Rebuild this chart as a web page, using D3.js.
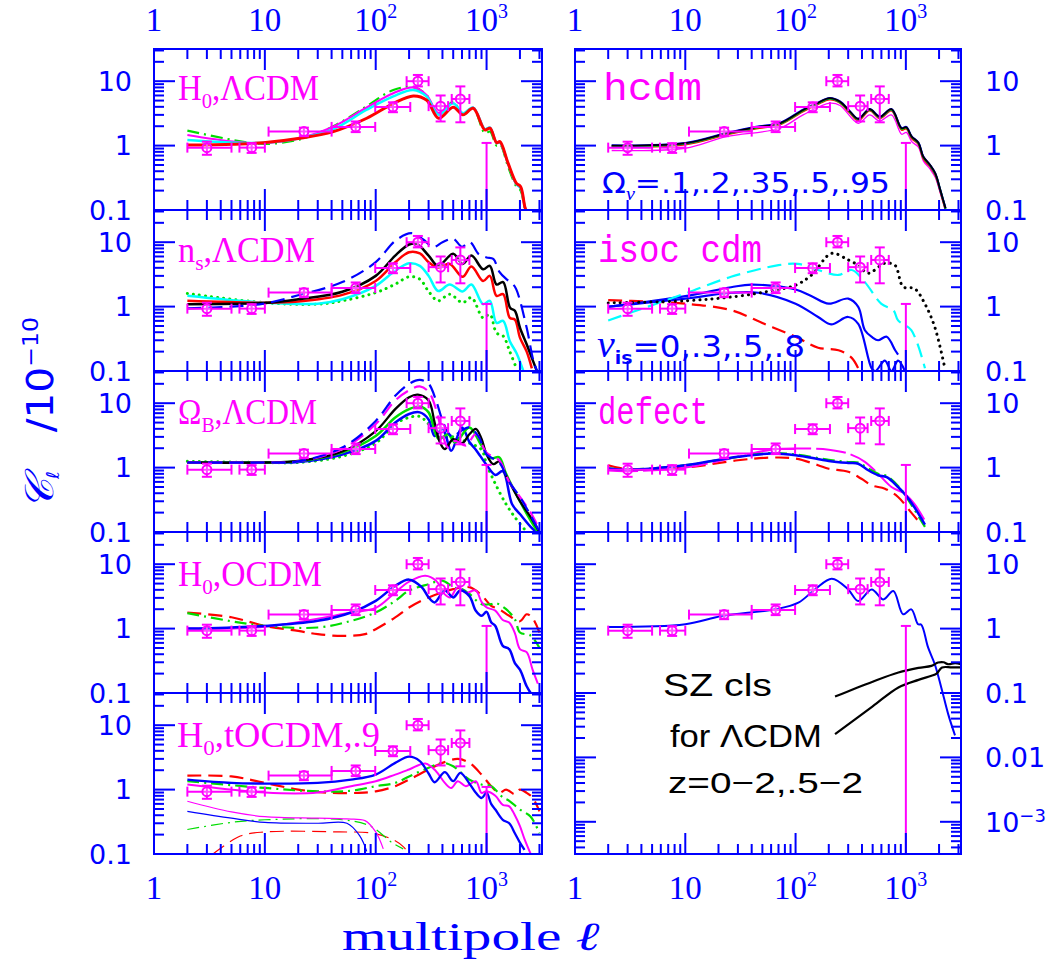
<!DOCTYPE html>
<html><head><meta charset="utf-8">
<script src="https://cdn.jsdelivr.net/npm/d3@7"></script>
<style>body{margin:0;background:#fff}text{white-space:pre}</style>
</head><body><svg id="c" width="1058" height="964"></svg>
<script>
// ---------------- DATA ----------------
// x tick labels (multipole) and y tick labels
const xTickLabels = [[1,"1",""],[10,"10",""],[100,"10","2"],[1000,"10","3"]];
const yTickLabels = [[10,"10",""],[1,"1",""],[0.1,"0.1",""]];
const yTickLabelsSZ = [[10,"10",""],[1,"1",""],[0.1,"0.1",""],[0.01,"0.01",""],[0.001,"10","−3"]];

// COBE/ground-based band powers (same in every panel)
const dataEll   = [3, 7.6, 22.5, 66, 143, 240, 385, 580];
const dataVal   = [0.93, 0.93, 1.65, 1.95, 3.97, 10.0, 4.1, 5.3];
const dataEllLo = [2, 5.9, 10.8, 40, 99, 190, 300, 485];
const dataEllHi = [5, 10, 40, 99, 205, 300, 450, 700];
const dataValLo = [0.72, 0.77, 1.4, 1.62, 3.3, 8.3, 2.37, 2.3];
const dataValHi = [1.15, 1.09, 1.9, 2.37, 4.7, 12.5, 6.0, 8.3];
const limitEll = [1000];
const limitVal = [1.1];

// Panel: H0, LCDM
const h0l_green = [[2,1.71],[5.2,1.22],[9.7,1.06],[20.7,1.25],[41.5,2.0],[83,4.1],[144,7.3],[218,8.1],[287,6.1],[370,3.0],[500,4.8],[612,3.0],[757,3.8],[966,1.55],[1073,1.65],[1232,1.0],[1320,1.05],[1565,0.47],[1860,0.23],[2030,0.2],[2220,0.1],[2390,0.07]];
const h0l_mag   = [[2,1.46],[5.2,1.15],[9.7,1.09],[20.7,1.3],[41.5,1.97],[83,3.9],[144,6.5],[218,8.0],[287,6.1],[370,3.2],[500,4.55],[612,3.1],[757,3.9],[966,1.8],[1073,1.9],[1232,1.1],[1320,1.12],[1565,0.52],[1860,0.25],[2030,0.22],[2220,0.11],[2390,0.08]];
const h0l_cyan  = [[2,1.22],[5.2,1.11],[9.7,1.11],[20.7,1.3],[41.5,1.8],[83,3.6],[144,5.8],[218,7.3],[287,5.8],[370,3.0],[500,4.55],[612,3.2],[757,3.9],[966,1.8],[1073,1.9],[1232,1.1],[1320,1.12],[1565,0.52],[1860,0.25],[2030,0.22],[2220,0.11],[2390,0.08]];
const h0l_red   = [[2,1.02],[5.2,1.05],[9.7,1.11],[20.7,1.3],[41.5,1.65],[83,2.66],[144,4.5],[218,5.9],[287,5.1],[370,2.66],[500,3.95],[612,3.0],[757,3.8],[966,1.75],[1073,1.86],[1232,1.11],[1320,1.15],[1565,0.53],[1860,0.26],[2030,0.23],[2220,0.11],[2390,0.08]];

// Panel: hcdm
const hc_mag   = [[2.15,0.84],[10,0.91],[23.6,1.38],[72,1.86],[117,3.0],[204,4.55],[253,4.2],[370,2.22],[470,3.0],[580,2.4],[740,3.0],[915,1.5],[1010,1.6],[1130,1.15],[1300,0.95],[1440,0.58],[1660,0.43],[1850,0.32],[2060,0.18],[2290,0.1]];
const hc_red   = [[2.15,0.96],[10,1.04],[23.6,1.48],[44,1.84],[72,2.12],[117,3.4],[155,4.3],[204,5.2],[253,4.6],[312,3.2],[370,2.45],[470,3.5],[580,2.65],[740,3.5],[915,1.76],[1010,1.84],[1130,1.3],[1300,1.05],[1440,0.63],[1660,0.47],[1850,0.35],[2060,0.19],[2290,0.1]];
const hc_green = [[2.15,0.98],[10,1.07],[23.6,1.52],[44,1.9],[72,2.18],[117,3.5],[155,4.4],[204,5.35],[253,4.7],[312,3.3],[370,2.55],[470,3.6],[580,2.75],[740,3.6],[915,1.82],[1010,1.9],[1130,1.35],[1300,1.09],[1440,0.66],[1660,0.49],[1850,0.36],[2060,0.2],[2290,0.104]];
const hc_blue  = [[2.15,1.01],[10,1.1],[23.6,1.57],[44,1.96],[72,2.25],[117,3.62],[155,4.55],[204,5.5],[253,4.85],[312,3.4],[370,2.62],[470,3.7],[580,2.82],[740,3.7],[915,1.88],[1010,1.95],[1130,1.39],[1300,1.12],[1440,0.68],[1660,0.5],[1850,0.37],[2060,0.2],[2290,0.107]];
const hc_black = [[2.15,1.0],[10,1.09],[23.6,1.55],[44,1.93],[72,2.22],[117,3.58],[155,4.5],[204,5.45],[253,4.8],[312,3.37],[370,2.6],[470,3.67],[580,2.8],[740,3.67],[915,1.86],[1010,1.93],[1130,1.38],[1300,1.11],[1440,0.67],[1660,0.5],[1850,0.37],[2060,0.2],[2290,0.106]];

// Panel: n_s, LCDM
const ns_greenDot = [[2,1.6],[10,1.15],[30,1.09],[50,1.23],[100,1.65],[150,2.23],[200,2.9],[250,2.67],[300,1.72],[366,1.23],[465,1.56],[607,1.15],[730,1.38],[930,0.67],[1070,0.76],[1230,0.39],[1410,0.35],[1620,0.2],[1860,0.11]];
const ns_cyan = [[2,1.47],[10,1.15],[30,1.11],[50,1.3],[100,2.1],[150,3.6],[200,4.7],[250,4.3],[300,3.0],[366,1.75],[465,2.2],[607,1.72],[730,2.2],[930,1.09],[1070,1.23],[1230,0.56],[1410,0.6],[1620,0.29],[1860,0.19],[2145,0.1]];
const ns_red = [[2,1.23],[10,1.15],[20,1.2],[50,1.52],[100,2.5],[150,4.87],[200,7.0],[250,6.7],[300,4.9],[366,4.0],[465,4.6],[607,2.9],[730,4.2],[930,2.5],[1070,3.0],[1230,1.47],[1410,1.56],[1620,0.67],[1800,0.63],[2000,0.33],[2300,0.2],[2560,0.11]];
const ns_black = [[2,1.09],[10,1.14],[20,1.3],[50,1.7],[100,3.0],[150,6.2],[200,9.2],[235,9.4],[300,6.2],[366,4.3],[500,6.6],[607,4.6],[730,6.2],[930,3.8],[1070,4.3],[1230,2.2],[1410,2.4],[1630,0.96],[1800,0.86],[2000,0.47],[2300,0.26],[2560,0.16],[2840,0.1]];
const ns_blueDash = [[2,0.94],[5,1.0],[10,1.12],[20,1.5],[50,2.4],[100,4.9],[150,10.5],[210,13.8],[268,11],[330,8.4],[400,10],[500,11.3],[600,8.5],[708,10],[850,6.5],[1000,5.8],[1150,5.5],[1300,3.5],[1510,2.67],[1700,2.3],[1850,1.87],[2300,0.47],[2660,0.14],[3000,0.08]];

// Panel: isocurvature cdm
const iso_dot   = [[2,1.14],[10,1.23],[30,1.45],[60,1.76],[100,2.15],[140,3.1],[212,6.7],[300,5.3],[369,4.4],[456,3.3],[643,4.7],[795,4.4],[946,2.03],[1200,1.9],[1490,1.1],[1830,0.48],[2260,0.11]];
const iso_cyan  = [[2,0.61],[4.6,1.0],[10,1.6],[26,2.9],[70,4.4],[105,4.6],[160,3.7],[245,3.1],[323,3.7],[425,2.4],[600,1.1],[770,0.88],[850,0.61],[1120,0.43],[1490,0.11]];
const iso_blue1 = [[2,0.99],[10,1.45],[26,2.0],[40,2.2],[100,1.84],[140,1.45],[200,1.11],[300,1.33],[370,0.99],[425,0.43],[500,0.33],[560,0.3],[670,0.34],[800,0.21],[850,0.18]];
const iso_blue2 = [[2,1.0],[10,1.33],[26,1.64],[46,1.64],[100,1.11],[160,0.69],[210,0.53],[300,0.69],[370,0.54],[490,0.11],[530,0.1],[645,0.145],[740,0.1],[850,0.145],[980,0.1]];
const iso_red   = [[2,1.26],[4.6,1.2],[10,1.11],[26,0.88],[52,0.54],[100,0.34],[160,0.23],[245,0.21],[323,0.16],[380,0.1]];

// Panel: Omega_B, LCDM
const ob_greenDot = [[2,1.25],[10,1.2],[20,1.2],[50,1.5],[100,2.4],[150,4.75],[200,6.0],[250,6.2],[300,4.75],[380,3.0],[500,3.0],[700,2.4],[900,1.9],[1000,1.13],[1200,0.56],[1500,0.27],[1800,0.17],[2200,0.11]];
const ob_blue  = [[2,1.2],[10,1.2],[20,1.22],[50,1.6],[100,2.6],[150,5.0],[200,6.8],[250,7.2],[300,5.6],[340,3.1],[400,4.0],[430,3.1],[480,1.82],[600,4.2],[700,2.5],[800,1.9],[1000,1.1],[1200,0.77],[1400,0.88],[1700,0.27],[2000,0.19],[2500,0.12],[2800,0.1]];
const ob_green = [[2,1.2],[10,1.2],[20,1.25],[50,1.72],[100,3.1],[150,6.0],[200,8.1],[250,8.9],[300,7.2],[370,2.77],[450,3.3],[520,2.45],[700,4.2],[900,2.2],[1100,1.4],[1300,1.45],[1500,0.8],[2000,0.3],[2500,0.15],[2900,0.1]];
const ob_black = [[2,1.2],[10,1.2],[20,1.27],[50,1.78],[100,3.7],[150,8.1],[200,12.4],[240,13.6],[300,11],[340,5.0],[380,2.45],[420,1.93],[500,2.77],[600,2.4],[700,3.3],[800,4.0],[900,2.8],[1000,1.6],[1150,1.13],[1300,1.25],[1500,0.75],[2000,0.3],[2500,0.17],[3000,0.1]];
const ob_magDash = [[2,1.2],[10,1.2],[20,1.25],[50,1.95],[100,4.75],[150,11],[200,15.8],[250,18.2],[300,15],[350,8.1],[400,3.3],[450,2.05],[520,2.6],[650,2.2],[800,3.3],[1000,1.7],[1300,1.3],[1600,0.6],[2000,0.35],[2500,0.2],[3000,0.11]];
const ob_blueDash = [[2,1.2],[10,1.2],[20,1.25],[50,2.05],[100,5.3],[150,13],[200,20],[250,23],[300,20],[350,11],[400,5.4],[450,3.5],[500,3.0],[560,3.5],[700,4.2],[850,3],[1000,1.6],[1300,1.2],[1600,0.6],[2000,0.35],[2500,0.18],[3000,0.1]];

// Panel: defect
const def_red   = [[2,1.09],[3,0.95],[10,1.0],[30,1.3],[60,1.43],[100,1.38],[160,1.09],[200,0.96],[300,0.86],[396,0.67],[490,0.53],[646,0.47],[850,0.35],[1120,0.2],[1290,0.15]];
const def_mag   = [[2,0.9],[3,0.88],[10,1.0],[30,1.47],[60,1.9],[100,1.98],[200,1.9],[300,1.65],[425,1.23],[560,0.8],[740,0.5],[980,0.39],[1200,0.27],[1490,0.15]];
const def_green = [[2,0.97],[3,0.93],[10,1.09],[30,1.47],[60,1.68],[100,1.6],[200,1.32],[300,1.22],[370,1.2],[456,0.97],[560,0.8],[670,0.74],[850,0.52],[1000,0.36],[1200,0.22],[1490,0.12]];
const def_blue  = [[2,0.97],[3,0.93],[10,1.09],[30,1.47],[60,1.65],[100,1.56],[200,1.27],[300,1.18],[370,1.15],[456,0.91],[560,0.76],[670,0.71],[850,0.5],[1000,0.37],[1200,0.24],[1490,0.13]];

// Panel: H0, OCDM
const oc_red   = [[2,1.78],[5,1.5],[10,1.1],[20,0.92],[30,0.82],[50,0.77],[80,0.82],[100,0.98],[150,1.49],[200,2.13],[300,3.05],[500,4.1],[700,4.4],[900,3.3],[1100,2.26],[1300,2.0],[1600,1.58],[2000,1.3],[2300,1.67],[2600,1.45],[3000,0.87]];
const oc_green = [[2,1.74],[5,1.3],[10,1.1],[30,1.04],[60,1.32],[100,1.78],[150,2.7],[200,3.9],[300,4.9],[400,5.55],[500,4.4],[600,4.1],[700,3.45],[900,2.4],[1100,2.4],[1200,2.5],[1500,2.0],[1800,1.4],[2000,0.87],[2500,0.78],[3000,0.5]];
const oc_mag   = [[2,1.0],[10,1.07],[60,1.78],[100,2.1],[150,3.65],[200,5.35],[280,6.6],[350,5.55],[420,3.4],[470,3.05],[550,4.4],[650,3.6],[800,3.9],[900,2.6],[1000,2.13],[1200,1.9],[1400,1.36],[1600,1.24],[1800,0.85],[2000,0.48],[2300,0.43],[2600,0.23],[2900,0.14]];
const oc_blue  = [[2,1.0],[10,1.1],[30,1.32],[60,1.78],[100,2.7],[150,4.6],[200,5.76],[260,4.4],[300,3.05],[340,2.55],[420,3.9],[500,3.05],[580,3.9],[700,3.2],[800,1.89],[900,1.58],[1000,1.82],[1100,1.25],[1200,1.1],[1400,0.54],[1600,0.48],[1800,0.29],[2000,0.23],[2300,0.127],[2500,0.1]];

// Panel: H0, tOCDM (n=.9), total and tensor parts
const to_red   = [[2,1.65],[5,1.6],[10,1.27],[20,1.0],[40,0.89],[70,0.89],[100,0.94],[150,1.13],[200,1.43],[300,2.05],[400,2.6],[550,3.0],[700,2.6],[900,1.71],[1100,1.13],[1300,0.89],[1500,1.0],[1800,0.85],[2000,1.0],[2300,0.89],[2600,0.75],[3000,0.46]];
const to_green = [[2,1.35],[10,1.06],[30,0.94],[60,0.96],[100,1.13],[150,1.27],[200,1.6],[300,2.18],[400,2.6],[500,2.3],[700,1.43],[900,1.2],[1100,1.13],[1400,0.76],[1600,0.67],[2000,0.49],[2500,0.38],[3000,0.21]];
const to_mag   = [[2,1.2],[10,0.9],[30,0.9],[60,1.13],[100,1.35],[150,1.71],[200,2.05],[280,2.55],[350,1.93],[420,1.27],[480,1.06],[550,1.35],[650,1.13],[800,1.35],[900,0.89],[1000,0.94],[1200,0.8],[1400,0.58],[1600,0.55],[1800,0.4],[2000,0.27],[2200,0.17],[2500,0.1]];
const to_blue  = [[2,1.43],[5,1.27],[10,1.24],[30,1.27],[60,1.43],[100,1.71],[150,2.6],[200,3.24],[250,2.77],[300,1.78],[340,1.3],[420,1.87],[500,1.35],[580,1.82],[700,1.24],[800,0.89],[900,0.74],[1000,0.89],[1100,0.6],[1200,0.49],[1400,0.34],[1600,0.3],[1800,0.21],[2000,0.15],[2200,0.116]];
const to_tmag   = [[2,0.66],[5,0.45],[10,0.38],[30,0.36],[55,0.35],[80,0.33],[100,0.22],[117,0.12]];
const to_tblue  = [[2,0.46],[5,0.36],[10,0.31],[30,0.3],[55,0.3],[72,0.19],[83,0.11]];
const to_tgreen = [[2,0.24],[5,0.31],[10,0.34],[50,0.34],[90,0.27],[140,0.15],[177,0.12]];
const to_tred   = [[3.4,0.1],[6,0.19],[10,0.22],[47,0.22],[95,0.21],[144,0.166],[177,0.13],[200,0.1]];

// Panel: standard LCDM with SZ
const std_blue = [[2,1.06],[10,1.17],[21.5,1.57],[65,1.99],[106,2.53],[150,4.06],[213,5.95],[300,4.06],[370,2.69],[490,4.06],[625,2.84],[770,3.84],[945,1.67],[1120,1.99],[1290,1.17],[1380,1.15],[1590,0.51],[1830,0.28],[2100,0.12],[2420,0.047],[2790,0.022]];
const sz_all  = [[228,0.088],[500,0.15],[856,0.208],[1300,0.245],[1706,0.264],[1960,0.297],[2200,0.3],[2410,0.28],[2800,0.29],[3160,0.28]];
const sz_z05  = [[228,0.023],[500,0.062],[856,0.122],[1300,0.16],[1706,0.185],[1900,0.2],[2130,0.249],[2600,0.25],[3160,0.25]];

// ---------------- DRAWING ----------------
const BLUE='#0000ff', MAG='#ff00ff', RED='#ff0000', GRN='#00dd00', CYN='#00ffff', BLK='#000000';
const DASH='14,7', DASHDOT='12,5,2,5', DOT='0.1,6', LONG='30,5';
const svg = d3.select('#c');
const colX = [[154,542],[575,961]];
const rowY0 = 49, rowH = 161;

const S = (d,c,w,dash)=>({d,c,w,dash});
const panels = [
  {col:0,row:0,n:1,id:'h0l', curves:[S(h0l_green,GRN,2.2,DASHDOT),S(h0l_mag,MAG,2.2),S(h0l_cyan,CYN,2.4),S(h0l_red,RED,3)]},
  {col:0,row:1,n:1,id:'ns', curves:[S(ns_greenDot,GRN,3,DOT),S(ns_cyan,CYN,2.5),S(ns_red,RED,2.5),S(ns_black,BLK,2.5),S(ns_blueDash,BLUE,2.2,DASH)]},
  {col:0,row:2,n:1,id:'ob', curves:[S(ob_greenDot,GRN,3,DOT),S(ob_blue,BLUE,2.5),S(ob_green,GRN,2.5),S(ob_black,BLK,2.3),S(ob_magDash,MAG,2.2,DASH),S(ob_blueDash,BLUE,2.2,DASH)]},
  {col:0,row:3,n:1,id:'oc', curves:[S(oc_red,RED,2.2,DASH),S(oc_green,GRN,2.2,DASHDOT),S(oc_mag,MAG,2),S(oc_blue,BLUE,2.5)]},
  {col:0,row:4,n:1,id:'to', curves:[S(to_tred,RED,1.2,DASH),S(to_tgreen,GRN,1.2,DASHDOT),S(to_tmag,MAG,1.2),S(to_tblue,BLUE,1.2),
                                    S(to_red,RED,2.2,DASH),S(to_green,GRN,2.2,DASHDOT),S(to_mag,MAG,2),S(to_blue,BLUE,2.3)]},
  {col:1,row:0,n:1,id:'hc', curves:[S(hc_mag,MAG,1.3),S(hc_red,RED,2),S(hc_green,GRN,2),S(hc_blue,BLUE,2),S(hc_black,BLK,1.8)]},
  {col:1,row:1,n:1,id:'iso', curves:[S(iso_red,RED,2.2,DASH),S(iso_blue2,BLUE,2.2),S(iso_blue1,BLUE,2.2),S(iso_cyan,CYN,2.2,DASH),S(iso_dot,BLK,3,DOT)]},
  {col:1,row:2,n:1,id:'def', curves:[S(def_red,RED,2.2,DASH),S(def_mag,MAG,2,LONG),S(def_green,GRN,2.2,DASHDOT),S(def_blue,BLUE,2.5)]},
  {col:1,row:3,n:2,id:'sz', curves:[S(std_blue,BLUE,2),S(sz_all,BLK,2.2),S(sz_z05,BLK,2.2)]}
];

const defs = svg.append('defs');
function fitText(parent, x, y, width, parts, base){
  const t = parent.append('text').style('font-family',base.family).style('font-size',base.size+'px').attr('fill',base.fill);
  if(base.weight) t.style('font-weight',base.weight);
  let cur=0;
  parts.forEach(p=>{
    const s=t.append('tspan').text(p.t);
    const sh=p.shift||0; s.attr('dy',sh-cur); cur=sh;
    if(p.size) s.style('font-size',p.size+'px');
    if(p.family) s.style('font-family',p.family);
    if(p.style) s.style('font-style',p.style);
    if(p.weight) s.style('font-weight',p.weight);
  });
  let sx=1;
  if(width){ const w=t.node().getBBox().width; sx=width/w; }
  t.attr('transform',`translate(${x},${y}) scale(${sx},1)`);
  return t;
}

panels.forEach((p,i)=>{
  const x0=colX[p.col][0], x1=colX[p.col][1];
  const y0=rowY0+p.row*rowH, y1=rowY0+(p.row+p.n)*rowH;
  const yLo = p.n===1 ? 0.1 : Math.pow(10,-3.5);
  const yHi = Math.pow(10,1.5);
  const x = d3.scaleLog().domain([1,Math.pow(10,3.5)]).range([x0,x1]);
  const y = d3.scaleLog().domain([yLo,yHi]).range([y1,y0]);
  const cid='clip'+i;
  defs.append('clipPath').attr('id',cid).append('rect').attr('x',x0).attr('y',y0).attr('width',x1-x0).attr('height',y1-y0);
  const g=svg.append('g');
  const cg=g.append('g').attr('clip-path',`url(#${cid})`);
  const line=d3.line().x(d=>x(d[0])).y(d=>y(d[1])).curve(d3.curveCatmullRom.alpha(0.5));
  p.curves.forEach(c=>{
    cg.append('path').attr('d',line(c.d)).attr('fill','none').attr('stroke',c.c).attr('stroke-width',c.w)
      .attr('stroke-dasharray',c.dash||null).attr('stroke-linecap',c.dash===DOT?'round':'butt').attr('stroke-linejoin','round');
  });
  // data points
  const dg=cg.append('g').attr('stroke',MAG).attr('stroke-width',2).attr('fill','none');
  dataEll.forEach((l,k)=>{
    const cx=x(l), cy=y(dataVal[k]);
    const xa=x(dataEllLo[k]), xb=x(dataEllHi[k]), ya=y(dataValLo[k]), yb=y(dataValHi[k]);
    dg.append('line').attr('x1',xa).attr('x2',xb).attr('y1',cy).attr('y2',cy);
    dg.append('line').attr('x1',xa).attr('x2',xa).attr('y1',cy-5).attr('y2',cy+5);
    dg.append('line').attr('x1',xb).attr('x2',xb).attr('y1',cy-5).attr('y2',cy+5);
    dg.append('line').attr('x1',cx).attr('x2',cx).attr('y1',ya).attr('y2',yb);
    dg.append('line').attr('x1',cx-5).attr('x2',cx+5).attr('y1',ya).attr('y2',ya);
    dg.append('line').attr('x1',cx-5).attr('x2',cx+5).attr('y1',yb).attr('y2',yb);
    dg.append('circle').attr('cx',cx).attr('cy',cy).attr('r',4.5).attr('fill','#fff').attr('fill-opacity',0.3);
  });
  limitEll.forEach((l,k)=>{
    const cx=x(l), ya=y(limitVal[k]);
    dg.append('line').attr('x1',cx).attr('x2',cx).attr('y1',ya).attr('y2',y1);
    dg.append('line').attr('x1',cx-5).attr('x2',cx+5).attr('y1',ya).attr('y2',ya);
  });
  // frame & ticks
  const fg=g.append('g').attr('stroke',BLUE).attr('stroke-width',2);
  fg.append('rect').attr('x',x0).attr('y',y0).attr('width',x1-x0).attr('height',y1-y0).attr('fill','none');
  for(let k=0;k<4;k++) for(let m=1;m<10;m++){
    const v=m*Math.pow(10,k); if(v>Math.pow(10,3.5)) continue;
    const L = m===1?21:10, px=x(v);
    fg.append('line').attr('x1',px).attr('x2',px).attr('y1',y0).attr('y2',y0+L);
    fg.append('line').attr('x1',px).attr('x2',px).attr('y1',y1).attr('y2',y1-L);
  }
  const kLo=Math.floor(Math.log10(yLo)+1e-9)-1, kHi=2;
  for(let k=kLo;k<kHi;k++) for(let m=1;m<10;m++){
    const v=m*Math.pow(10,k); if(v<yLo*0.999||v>yHi*1.001) continue;
    const L = m===1?21:10, py=y(v);
    fg.append('line').attr('x1',x0).attr('x2',x0+L).attr('y1',py).attr('y2',py);
    fg.append('line').attr('x1',x1).attr('x2',x1-L).attr('y1',py).attr('y2',py);
  }
  // y tick labels
  const labs = p.n===1? yTickLabels : yTickLabelsSZ;
  labs.forEach(([v,a,sup])=>{
    const t=svg.append('text').attr('fill',BLUE).style('font-family','DejaVu Sans').style('font-size','27px')
      .attr('y',y(v)).attr('dy','0.36em');
    if(p.col===0) t.attr('x',x0-22).attr('text-anchor','end'); else t.attr('x',x1+24);
    t.append('tspan').text(a);
    if(sup) t.append('tspan').text(sup).style('font-size','18px').attr('dy','-0.55em');
  });
  // x tick labels
  const xl=(yy)=>xTickLabels.forEach(([v,a,sup])=>{
    const t=svg.append('text').attr('fill',BLUE).style('font-family','Liberation Serif').style('font-size','33px')
      .attr('x',x(v)).attr('y',yy).attr('text-anchor','middle');
    t.append('tspan').text(a);
    if(sup) t.append('tspan').text(sup).style('font-size','20px').attr('dy','-13');
  });
  if(p.row===0) xl(31);
  if(p.row+p.n===5) xl(899);
});

// panel labels
const ser={family:'Liberation Serif',size:35,fill:MAG};
const mono={family:'Liberation Mono',size:38,fill:MAG};
fitText(svg,178,100,141,[{t:'H'},{t:'0',size:22,shift:8},{t:',ΛCDM'}],ser);
fitText(svg,178,262,137,[{t:'n'},{t:'s',size:22,shift:8},{t:',ΛCDM'}],ser);
fitText(svg,178,424,139,[{t:'Ω'},{t:'B',size:22,shift:8},{t:',ΛCDM'}],ser);
fitText(svg,178,586,144,[{t:'H'},{t:'0',size:22,shift:8},{t:',OCDM'}],ser);
fitText(svg,177,747,203,[{t:'H'},{t:'0',size:22,shift:8},{t:',tOCDM,.9'}],ser);
fitText(svg,603,100,99,[{t:'hcdm'}],mono);
fitText(svg,598,262,164,[{t:'isoc cdm'}],mono);
fitText(svg,598,424,110,[{t:'defect'}],mono);
fitText(svg,602,193,288,[{t:'Ω'},{t:'ν',size:18,shift:7,family:'Liberation Serif',style:'italic'},{t:'=.1,.2,.35,.5,.95'}],{family:'DejaVu Sans',size:28,fill:BLUE});
fitText(svg,597,357,208,[{t:'ν',family:'Liberation Serif',style:'italic',size:38},{t:'is',size:18,shift:7,weight:'bold'},{t:'=0,.3,.5,.8'}],{family:'DejaVu Sans',size:31,fill:BLUE});
fitText(svg,663,696,109,[{t:'SZ cls'}],{family:'Liberation Sans',size:32,fill:BLK});
fitText(svg,670,747,152,[{t:'for ΛCDM'}],{family:'Liberation Sans',size:31,fill:BLK});
fitText(svg,668,793,195,[{t:'z=0−2,.5−2'}],{family:'Liberation Sans',size:30,fill:BLK});

// axis titles
fitText(svg,342,950,258,[{t:'multipole '},{t:'ℓ',style:'italic'}],{family:'Liberation Serif',size:40,fill:BLUE});
const yt=svg.append('g').attr('transform','translate(53,510) rotate(-90)');
fitText(yt,0,0,193,[{t:'𝒞',family:'DejaVu Serif',style:'italic',size:40},{t:'ℓ',size:18,shift:6,style:'italic'},{t:'   /10'},{t:'−10',size:22,shift:-15}],{family:'DejaVu Sans',size:38,fill:BLUE});
</script></body></html>
